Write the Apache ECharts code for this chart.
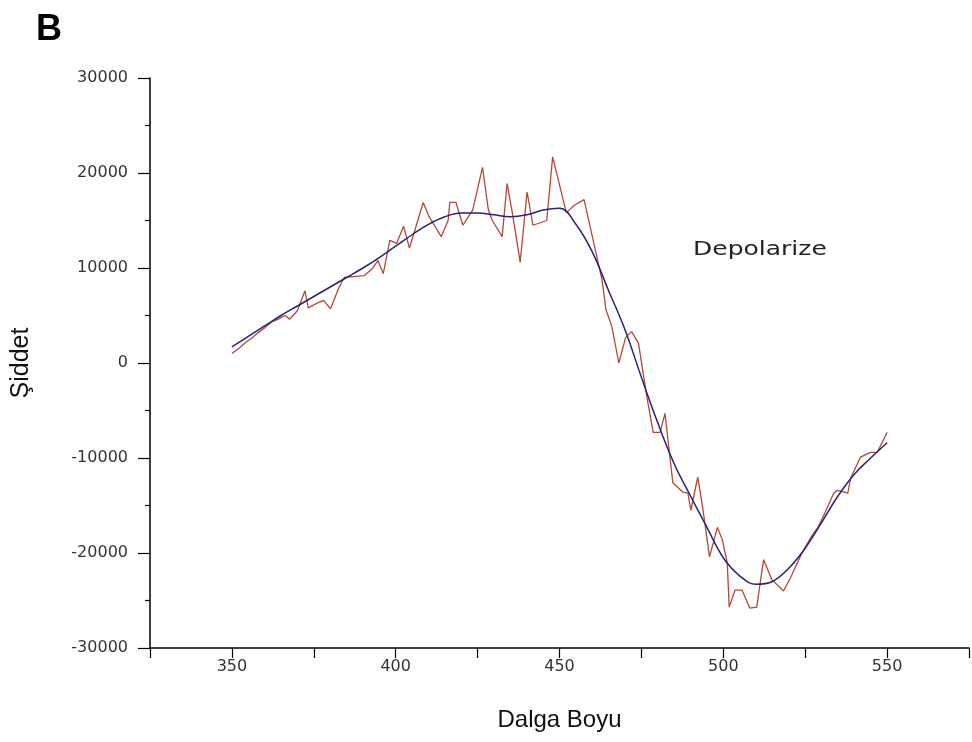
<!DOCTYPE html>
<html>
<head>
<meta charset="utf-8">
<script src="https://cdn.jsdelivr.net/npm/echarts@6/dist/echarts.min.js"></script>
<style>html,body{margin:0;padding:0;background:#fff}#c{width:972px;height:742px}</style>
</head>
<body>
<div id="c"></div>
<script>
// Measured (noisy) data, red
var redX = [350,352,354,356,358,360,362,364,366.3,367.6,370,372.3,373.3,376,378,380.1,382.5,384.3,387,390.4,392.8,394.6,396.2,398.2,400.3,402.4,404.2,408.4,410.2,413.9,416.0,416.5,418.4,420.5,423.5,426.5,428.3,429.5,432.5,434.0,435.8,438.0,440.1,441.9,446.1,447.9,452.1,454.5,457.5,461.4,463.0,464.2,466.0,468.1,470.2,472.0,474.1,476.5,477.1,478.6,480.7,482.2,483.7,484.6,487.7,489.2,490.1,492.2,493.7,495.8,498.2,499.7,501.2,501.8,503.6,505.7,508.1,510.2,512.3,514.8,518.4,520.8,524,527,528.9,531,533.7,534.9,538.0,538.9,541.9,544.9,547.0,550.0];
var redY = [1000,1500,2100,2600,3200,3700,4300,4600,5000,4600,5500,7600,5800,6300,6600,5700,7800,9000,9100,9200,9900,10800,9400,12900,12600,14400,12100,16900,15400,13300,15000,16900,16900,14500,16100,20600,16100,15000,13300,18900,15400,10600,18000,14500,15000,21700,15800,16600,17200,11200,8700,5600,3800,0,2700,3300,2100,-3200,-4400,-7300,-7300,-5300,-9900,-12600,-13600,-13700,-15500,-12000,-15200,-20400,-17300,-18600,-21000,-25700,-23900,-23900,-25800,-25700,-20700,-22800,-24000,-22400,-20000,-18200,-17300,-15800,-13700,-13400,-13700,-12100,-9900,-9400,-9400,-7300];
// Smooth fit, blue
var fitX = [350,355,360,365,370,375,380,385,390,395,400,405,410,415,420,425,430,435,440,445,450,455,460,465,470,475,480,485,490,495,500,505,510,515,520,525,530,535,540,545,550];
var fitY = [1700,2800,3900,5000,6000,7000,8000,9000,10000,11100,12300,13500,14600,15400,15800,15800,15600,15400,15600,16100,16300,14600,11700,7600,3500,-1500,-6300,-10600,-14000,-17300,-20500,-22400,-23300,-23000,-21600,-19500,-16800,-14000,-11700,-10000,-8400];
// Axis settings
var xMin = 325, xMax = 575, xStep = 25;
var yMin = -30000, yMax = 30000, yStep = 10000;
var xTitle = 'Dalga Boyu', yTitle = 'Şiddet', annotation = 'Depolarize', panel = 'B';

function pairs(xs, ys){ return xs.map(function(x,i){ return [x, ys[i]]; }); }

var chart = echarts.init(document.getElementById('c'), null, {renderer:'canvas'});
chart.setOption({
  animation: false,
  backgroundColor: '#fff',
  grid: {left: 150, top: 78, bottom: 94, right: -8, containLabel: false},
  xAxis: {
    type: 'value', min: xMin, max: xMax, interval: xStep,
    name: xTitle, nameLocation: 'middle', nameGap: 60,
    nameTextStyle: {fontFamily: 'Liberation Sans', fontSize: 24, color: '#111'},
    axisLine: {show: true, onZero: false, lineStyle: {color: '#000', width: 1.5}},
    axisTick: {show: true, length: 10, lineStyle: {color: '#000', width: 1.2}},
    axisLabel: {margin: 11, fontFamily: 'DejaVu Sans', fontSize: 16, color: '#333',
      formatter: function(v){ return (v % 50 === 0) ? String(v) : ''; }},
    splitLine: {show: false}
  },
  yAxis: {
    type: 'value', min: yMin, max: yMax, interval: yStep,
    name: yTitle, nameLocation: 'middle', nameGap: 116, nameRotate: 90,
    nameTextStyle: {fontFamily: 'Liberation Sans', fontSize: 25, color: '#111'},
    axisLine: {show: true, onZero: false, lineStyle: {color: '#000', width: 1.5}},
    axisTick: {show: true, length: 12, lineStyle: {color: '#000', width: 1.2}},
    minorTick: {show: true, splitNumber: 2, length: 5, lineStyle: {color: '#000', width: 1.2}},
    axisLabel: {margin: 22, fontFamily: 'DejaVu Sans', fontSize: 16, color: '#333',
      formatter: function(v){ return String(v); }},
    splitLine: {show: false}
  },
  graphic: [
    {type: 'text', left: 36, top: 12, style: {text: panel, font: 'bold 36px "Liberation Sans"', fill: '#000'}},
    {type: 'text', left: 693, top: 240, scaleX: 1.25, style: {text: annotation, font: '20px "DejaVu Sans"', fill: '#222'}}
  ],
  series: [
    {type: 'line', data: pairs(redX, redY), showSymbol: false, symbol: 'none',
     lineStyle: {color: '#b24a33', width: 1.3}, z: 2},
    {type: 'line', data: pairs(fitX, fitY), showSymbol: false, symbol: 'none', smooth: 0.4,
     lineStyle: {color: '#25237a', width: 1.5}, z: 3}
  ]
});
</script>
</body>
</html>
